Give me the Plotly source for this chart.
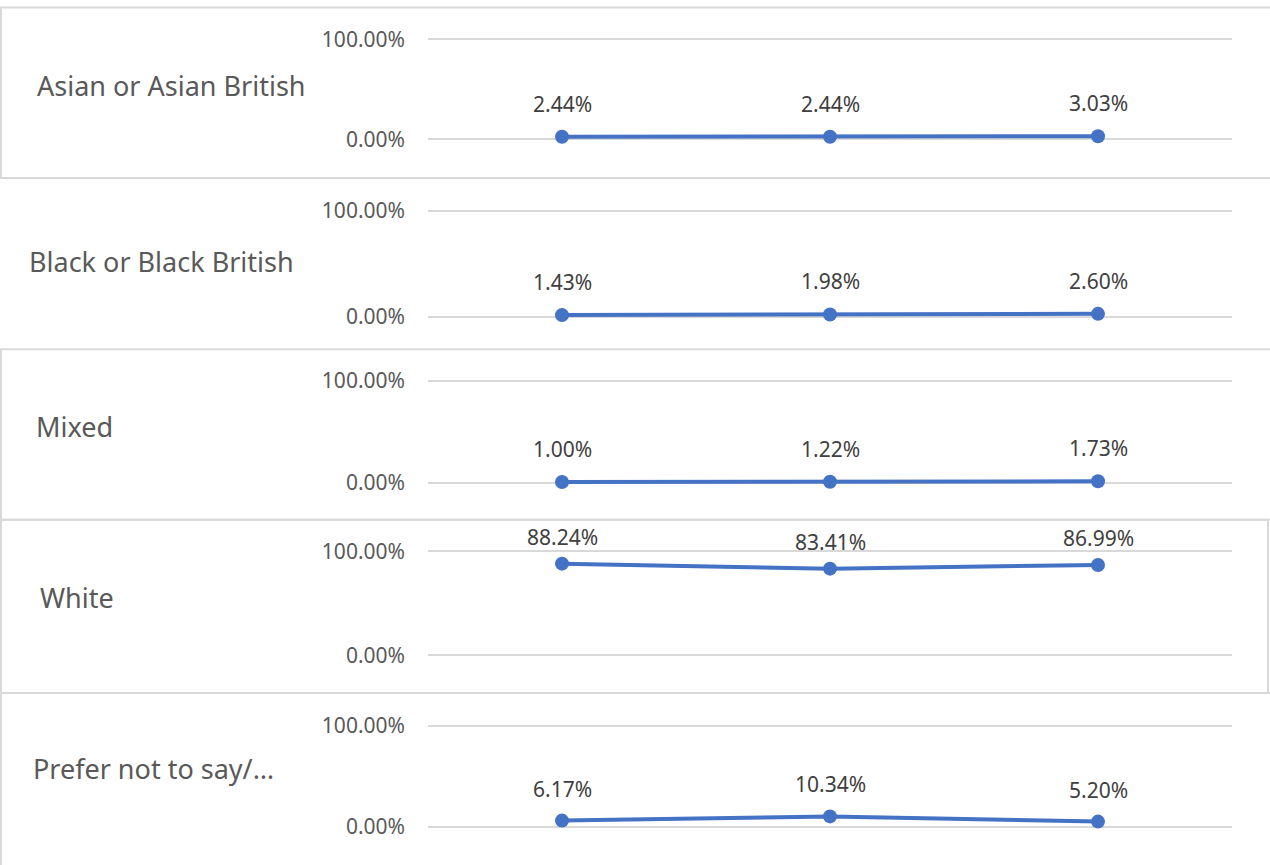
import plotly.graph_objects as go

W, H = 1270, 865
OX, OY = 0, 0.5

periods = ["Period 1", "Period 2", "Period 3"]
groups = ["Asian or Asian British", "Black or Black British", "Mixed", "White", "Prefer not to say/…"]
asian = [2.44, 2.44, 3.03]
black = [1.43, 1.98, 2.60]
mixed = [1.00, 1.22, 1.73]
white = [88.24, 83.41, 86.99]
prefer = [6.17, 10.34, 5.20]
series = [asian, black, mixed, white, prefer]
tick_vals = [0, 100]
tick_text = ["0.00%", "100.00%"]

# pixel layout: (y of 0%, y of 100%, label left x, label center y, label shift)
panels = [
    (136, 35, 37, 82, 33),
    (315, 208, 29, 259, 33),
    (483, 380, 36, 426, 33),
    (657, 552, 40, 599, 27),
    (830, 728, 33, 771, 32),
]
boxes = [
    (1, 3, 1290, 175),
    (1, 348, 1290, 520),
    (1, 520, 1268, 695),
    (1, 695, 1290, 880),
]


def px(x):
    return (x - OX) / W


def py(y):
    return 1 - (y - OY) / H


fig = go.Figure()
pad = 10
x_dom = [px(428), px(1232)]
annotations = []
for i, (vals, grp, (p0, p100, lx, ly, sh)) in enumerate(zip(series, groups, panels)):
    k = (p0 - p100) / 100.0
    bot = p0 + pad * k
    top = p100 - pad * k
    ax = "" if i == 0 else str(i + 1)
    fig.add_trace(go.Scatter(
        x=periods, y=vals, mode="lines+markers",
        line=dict(color="#4472C4", width=4),
        marker=dict(color="#4472C4", size=14),
        xaxis="x" + ax, yaxis="y" + ax, cliponaxis=False,
        showlegend=False, hoverinfo="skip",
    ))
    for p, v in zip(periods, vals):
        annotations.append(dict(
            x=p, y=v, xref="x" + ax, yref="y" + ax, text=f"{v:.2f}%",
            showarrow=False, yshift=sh, font=dict(size=21, color="#404040",
                                                   family="Noto Sans")))
    annotations.append(dict(
        x=px(lx), y=py(ly), xref="paper", yref="paper", text=grp,
        showarrow=False, xanchor="left", yanchor="middle", xshift=-2,
        font=dict(size=27, color="#595959", family="Noto Sans")))
    fig.layout["xaxis" + ax] = dict(
        domain=x_dom, anchor="y" + ax, range=[-0.5, 2.5], type="category",
        showticklabels=False, showgrid=False, zeroline=False, showline=False,
        fixedrange=True)
    fig.layout["yaxis" + ax] = dict(
        domain=[py(bot), py(top)], anchor="x" + ax,
        range=[-pad, 100 + pad], tickvals=tick_vals, ticktext=tick_text,
        showgrid=True, gridcolor="#d9d9d9", gridwidth=1.5, zeroline=False,
        showline=False, ticks="", ticklabelstandoff=22,
        tickfont=dict(size=21, color="#595959", family="Noto Sans"),
        fixedrange=True)

shapes = []
for (x0, y0, x1, y1) in boxes:
    shapes.append(dict(type="rect", xref="paper", yref="paper",
                       x0=px(x0), x1=px(x1), y0=py(y1), y1=py(y0),
                       line=dict(color="#d9d9d9", width=2), layer="below"))

fig.update_layout(
    width=W, height=H, margin=dict(l=0, r=0, t=0, b=0),
    paper_bgcolor="white", plot_bgcolor="white",
    annotations=annotations, shapes=shapes,
    font=dict(family="Noto Sans"),
)

fig.write_html("out.html", config={"displayModeBar": False},
               post_script="document.body.style.margin='0';document.body.style.overflow='hidden';")
